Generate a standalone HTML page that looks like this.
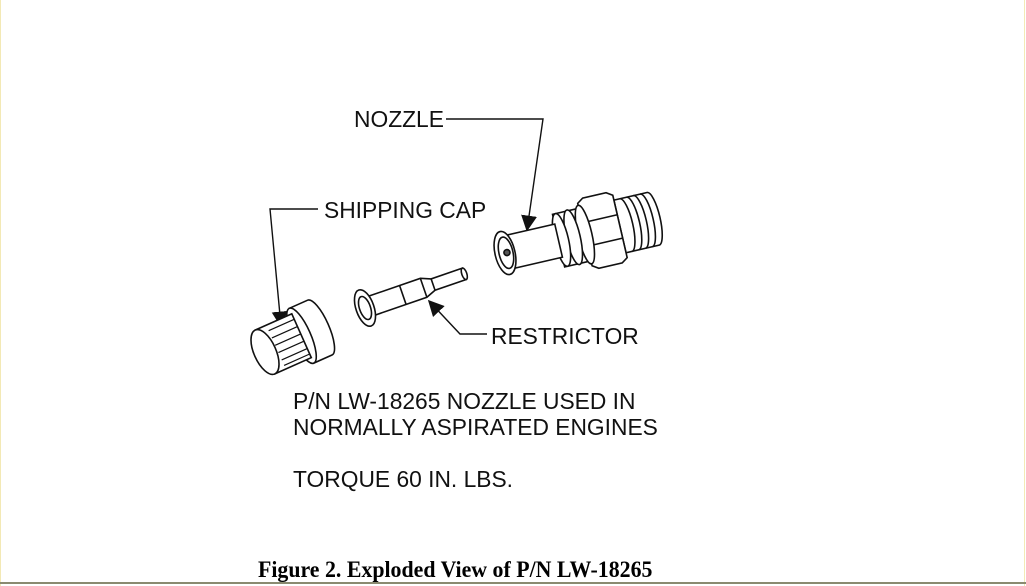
<!DOCTYPE html>
<html><head><meta charset="utf-8"><style>
html,body{margin:0;padding:0;background:#fff}
body{width:1026px;height:586px;position:relative;overflow:hidden}
.t{position:absolute;font-family:"Liberation Sans",Arial,sans-serif;font-size:22.8px;color:#111;white-space:nowrap;line-height:1}
.cap{position:absolute;left:258px;top:559px;font-family:"Liberation Serif",serif;font-weight:bold;font-size:23.5px;color:#000;white-space:nowrap;transform:scaleX(0.93);transform-origin:left top;line-height:1}
</style></head><body>
<div style="position:absolute;right:1px;top:0;width:1px;height:586px;background:#f3e9b5"></div>
<div style="position:absolute;left:0;top:0;width:1px;height:586px;background:#f3e9b5"></div>
<div style="position:absolute;left:0;top:582px;width:1026px;height:2px;background:#8a8a70"></div>
<svg width="1026" height="586" style="position:absolute;left:0;top:0" fill="#fff" stroke="#111" stroke-width="1.6">
<defs><marker id="a" viewBox="0 0 10 10" refX="9" refY="5" markerWidth="11" markerHeight="11" markerUnits="userSpaceOnUse" orient="auto"><path d="M0,0L10,5L0,10z" fill="#111" stroke="none"/></marker>
<marker id="b" viewBox="0 0 10 10" refX="9" refY="5" markerWidth="16" markerHeight="16" markerUnits="userSpaceOnUse" orient="auto"><path d="M0,0L10,5L0,10z" fill="#111" stroke="none"/></marker></defs>
<!-- leaders -->
<g fill="none" stroke-width="1.4">
<path d="M446,119H543L527,230" marker-end="url(#b)"/>
<path d="M318,209H270L281,326" marker-end="url(#b)"/>
<path d="M487,334H460L429,301" marker-end="url(#b)"/>
</g>
<!-- nozzle -->
<g transform="translate(505,253) rotate(-13)">
<path d="M118,-27H152A7,27 0 0 1 152,27H118z"/>
<g fill="none"><path d="M124,-27a7,27 0 0 1 0,54M131,-27a7,27 0 0 1 0,54M138,-27a7,27 0 0 1 0,54M145,-27a7,27 0 0 1 0,54"/></g>
<path d="M82,-32L88,-36H112L118,-32V32L112,36H88L82,32z"/>
<path d="M82,-12H118M82,12H118" fill="none"/>
<path d="M55,-27H82V27H55z"/>
<ellipse cx="82" cy="0" rx="7" ry="30"/>
<ellipse cx="70" cy="0" rx="7" ry="28"/>
<ellipse cx="58" cy="0" rx="7" ry="27"/>
<path d="M0,-17H55V17H0z"/>
<ellipse cx="0" cy="0" rx="10" ry="22"/>
<ellipse cx="1" cy="0" rx="7" ry="16"/>
<circle cx="2" cy="0" r="3" fill="#555"/>
</g>
<!-- restrictor -->
<g transform="translate(365,308) rotate(-19)">
<path d="M5,-10H62L72,-6H105V6H72L62,10H5z"/>
<ellipse cx="105" cy="0" rx="2.5" ry="6"/>
<path d="M40,-10V10M62,-10V10M72,-6V6" fill="none"/>
<ellipse cx="0" cy="0" rx="9" ry="19"/>
<ellipse cx="0" cy="0" rx="5.5" ry="12"/>
</g>
<!-- cap -->
<g transform="translate(265,352) rotate(-24)">
<path d="M40,-30H60A9,30 0 0 1 60,30H40z"/>
<ellipse cx="40" cy="0" rx="9" ry="30"/>
<path d="M0,-24H40V24H0z"/>
<g fill="none" stroke-width="1.2"><path d="M12,-18H40M12,-10H40M12,-2H40M12,6H40M12,14H40M12,20H40"/></g>
<ellipse cx="0" cy="0" rx="11" ry="24"/>
</g>
</svg>
<div class="t" style="left:354px;top:108px">NOZZLE</div>
<div class="t" style="left:324px;top:199px">SHIPPING CAP</div>
<div class="t" style="left:491px;top:325px">RESTRICTOR</div>
<div class="t" style="left:293px;top:390px">P/N LW-18265 NOZZLE USED IN</div>
<div class="t" style="left:293px;top:416px">NORMALLY ASPIRATED ENGINES</div>
<div class="t" style="left:293px;top:468px">TORQUE 60 IN. LBS.</div>
<div class="cap">Figure 2. Exploded View of P/N LW-18265</div>
</body></html>
